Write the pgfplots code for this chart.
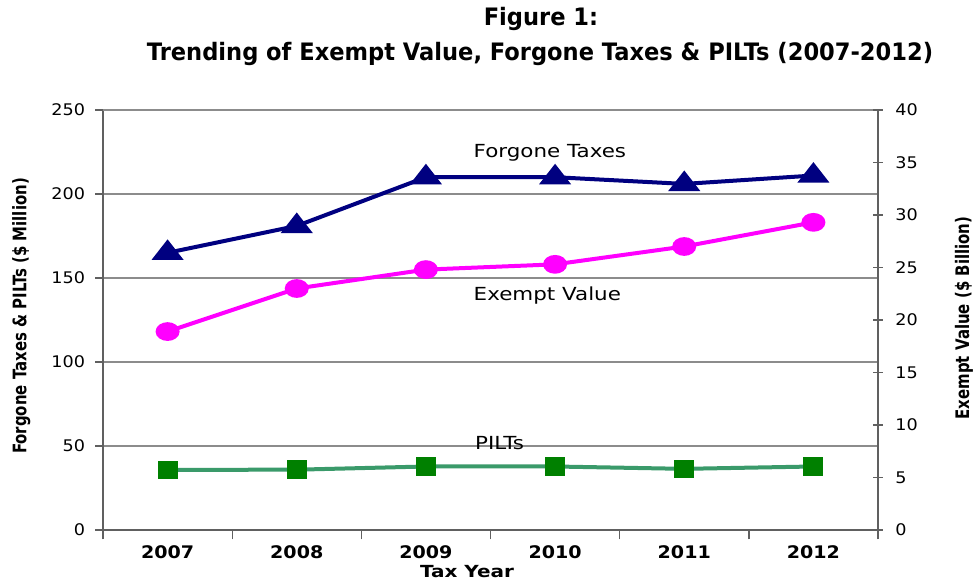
\documentclass[border=0pt]{standalone}
\usepackage{fontspec}
\setmainfont{DejaVu Sans}
\newfontfamily\tickfont[FakeStretch=1.1]{DejaVu Sans}
\newfontfamily\tickbold[FakeStretch=1.1]{DejaVu Sans Bold}
\newfontfamily\taxfont[FakeStretch=1.2]{DejaVu Sans Bold}
\newfontfamily\titlefont[FakeStretch=0.94]{DejaVu Sans Bold}
\newfontfamily\labfont[FakeStretch=0.8]{DejaVu Sans Bold}
\newfontfamily\serfont[FakeStretch=1.19]{DejaVu Sans}
\usepackage{pgfplots}
\pgfplotsset{compat=1.18}
\definecolor{navy}{HTML}{000080}
\definecolor{magenta}{HTML}{FF00FF}
\definecolor{pline}{HTML}{3A9A6A}
\definecolor{pmark}{HTML}{008000}
\definecolor{frame}{HTML}{606060}
\begin{document}
\begin{tikzpicture}[x=1pt,y=1pt]
\path[use as bounding box] (0,0) rectangle (734.25,436.5);
\begin{axis}[
  at={(77.25pt,39pt)}, anchor=south west,
  width=581.25pt, height=315pt, scale only axis,
  /pgf/number format/assume math mode=true,
  xmin=-0.5, xmax=5.5, ymin=0, ymax=250,
  xtick={0,1,2,3,4,5},
  xticklabels={2007,2008,2009,2010,2011,2012},
  major x tick style={draw=none},
  minor xtick={-0.5,0.5,1.5,2.5,3.5,4.5,5.5},
  minor tick length=7pt,
  ytick={0,50,100,150,200,250},
  major tick length=6pt,
  tick align=outside,
  axis y line*=left, axis x line*=bottom,
  ymajorgrids, grid style={draw=gray!90, line width=0.8pt},
  axis line style={draw=frame, line width=2pt},
  tick style={draw=frame, line width=1pt},
  xticklabel style={font=\tickbold\fontsize{13}{15}\selectfont, yshift=-2pt},
  yticklabel style={font=\tickfont\fontsize{12}{14}\selectfont, xshift=-4pt},
  clip=false,
]
\addplot[navy, line width=3pt, mark=triangle*, mark size=9pt, mark options={xscale=1.15, yscale=0.85}]
  coordinates {(0,165) (1,181) (2,210) (3,210) (4,206) (5,211)};
\addplot[pline, line width=3pt, mark=square*, mark size=5.5pt, mark options={pmark, xscale=1.1}]
  coordinates {(0,35.8) (1,35.9) (2,37.8) (3,37.8) (4,36.4) (5,37.8)};
\draw[gray!90, line width=2pt] (axis cs:-0.5,250) -- (axis cs:5.5,250);
\node[font=\serfont\fontsize{13.5}{15}\selectfont] at (axis cs:2.96,224.8) {Forgone Taxes};
\node[font=\serfont\fontsize{13.5}{15}\selectfont] at (axis cs:2.94,139.5) {Exempt Value};
\node[font=\serfont\fontsize{13.5}{15}\selectfont] at (axis cs:2.57,51.9) {PILTs};
\end{axis}
\begin{axis}[
  at={(77.25pt,39pt)}, anchor=south west,
  width=581.25pt, height=315pt, scale only axis,
  /pgf/number format/assume math mode=true,
  xmin=-0.5, xmax=5.5, ymin=0, ymax=40,
  axis x line=none, axis y line*=right,
  ytick={0,5,...,40},
  major tick length=7pt,
  tick align=center,
  axis line style={draw=frame, line width=2pt},
  tick style={draw=frame, line width=1pt},
  yticklabel style={font=\tickfont\fontsize{12}{14}\selectfont, xshift=6pt},
  clip=false,
]
\addplot[magenta, line width=3pt, mark=*, mark size=6.5pt, mark options={xscale=1.15, yscale=0.85}]
  coordinates {(0,18.9) (1,23.0) (2,24.8) (3,25.3) (4,27.0) (5,29.3)};
\end{axis}
\node[font=\titlefont\fontsize{18}{21}\selectfont] at (405.75,422) {Figure 1:};
\node[font=\titlefont\fontsize{18}{21}\selectfont] at (405,396) {Trending of Exempt Value, Forgone Taxes \& PILTs (2007-2012)};
\node[rotate=90, font=\labfont\fontsize{14}{16}\selectfont] at (16,199.5) {Forgone Taxes \& PILTs (\$ Million)};
\node[rotate=90, font=\labfont\fontsize{14}{16}\selectfont] at (723,198) {Exempt Value (\$ Billion)};
\node[font=\taxfont\fontsize{12.5}{14}\selectfont, inner sep=0pt, anchor=base] at (350.25,3) {Tax Year};
\end{tikzpicture}
\end{document}
